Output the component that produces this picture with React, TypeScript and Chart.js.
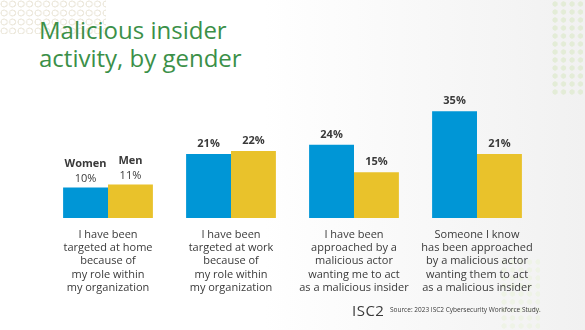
import React, { useEffect, useRef } from "react";
import { Chart, registerables } from "chart.js";

Chart.register(...registerables);

const categories: string[][] = [
  ["I have been", "targeted at home", "because of", "my role within", "my organization"],
  ["I have been", "targeted at work", "because of", "my role within", "my organization"],
  ["I have been", "approached by a", "malicious actor", "wanting me to act", "as a malicious insider"],
  ["Someone I know", "has been approached", "by a malicious actor", "wanting them to act", "as a malicious insider"],
];
const seriesNames = ["Women", "Men"];
const womenValues = [10, 21, 24, 35];
const menValues = [11, 22, 15, 21];

const BLUE = "#0096d6";
const YELLOW = "#e9c22b";
const TEXT = "#3a3a3a";
const FONT = "'Open Sans', 'Noto Sans', sans-serif";

const labelPlugin = {
  id: "barLabels",
  afterDatasetsDraw(chart: any) {
    const ctx = chart.ctx;
    ctx.save();
    ctx.textAlign = "center";
    ctx.textBaseline = "middle";
    ctx.fillStyle = TEXT;
    chart.data.datasets.forEach((ds: any, di: number) => {
      const meta = chart.getDatasetMeta(di);
      meta.data.forEach((bar: any, i: number) => {
        const v = ds.data[i];
        const txt = v + "%";
        if (i === 0) {
          ctx.font = `400 11px ${FONT}`;
          ctx.fillText(txt, bar.x, bar.y - 9);
          ctx.font = `700 11px ${FONT}`;
          ctx.fillText(seriesNames[di], bar.x, bar.y - 24);
        } else {
          ctx.font = `700 11px ${FONT}`;
          ctx.fillText(txt, bar.x, bar.y - 10);
        }
      });
    });
    ctx.restore();
  },
};

const dotPattern = (color: string) =>
  `radial-gradient(circle at 4px 4px, ${color} 0, ${color} 2.4px, transparent 2.9px)`;
const ringPattern =
  "radial-gradient(circle at 4px 4px, transparent 0, transparent 2.4px, #ece8dc 2.6px, #ece8dc 3.4px, transparent 3.7px)";

export default function App() {
  const ref = useRef<HTMLCanvasElement | null>(null);
  useEffect(() => {
    if (!ref.current) return;
    const chart = new Chart(ref.current, {
      type: "bar",
      data: {
        labels: categories,
        datasets: [
          {
            label: seriesNames[0],
            data: womenValues,
            backgroundColor: BLUE,
            borderWidth: 0,
            categoryPercentage: 0.73,
            barPercentage: 1,
          },
          {
            label: seriesNames[1],
            data: menValues,
            backgroundColor: YELLOW,
            borderWidth: 0,
            categoryPercentage: 0.73,
            barPercentage: 1,
          },
        ],
      },
      options: {
        animation: false,
        responsive: false,
        layout: { padding: { left: 46.5, right: 46.5, top: 96, bottom: 0 } },
        plugins: { legend: { display: false }, tooltip: { enabled: false }, title: { display: false } },
        scales: {
          x: {
            grid: { display: false },
            border: { display: false },
            ticks: {
              color: TEXT,
              font: { family: FONT, size: 11, lineHeight: 1.21 },
              padding: 2,
              maxRotation: 0,
              autoSkip: false,
            },
            afterFit: (s: any) => {
              s.height = 112;
            },
          } as any,
          y: {
            display: false,
            min: 0,
            max: 40,
          },
        },
      },
      plugins: [labelPlugin],
    });
    return () => chart.destroy();
  }, []);

  return (
    <div
      style={{
        position: "fixed",
        left: 0,
        top: 0,
        width: 585,
        height: 330,
        overflow: "hidden",
        background: "linear-gradient(90deg, #ffffff 0%, #ffffff 45%, #f1f1f1 100%)",
        fontFamily: FONT,
      }}
    >
      <div
        style={{
          position: "absolute",
          left: 0,
          top: 0,
          width: 106,
          height: 34,
          backgroundImage: ringPattern,
          backgroundSize: "8.5px 9px",
        }}
      />
      <div
        style={{
          position: "absolute",
          left: 551,
          top: 0,
          width: 34,
          height: 95,
          backgroundImage: dotPattern("#e3ecd7"),
          backgroundSize: "8.5px 8px",
        }}
      />
      <div
        style={{
          position: "absolute",
          left: 500,
          top: 258,
          width: 40,
          height: 72,
          backgroundImage: dotPattern("#eef3e6"),
          backgroundSize: "8.5px 8px",
        }}
      />
      <div
        style={{
          position: "absolute",
          left: 39,
          top: 16,
          color: "#3b9048",
          fontSize: 24,
          lineHeight: "28px",
          fontWeight: 400,
        }}
      >
        Malicious insider
        <br />
        activity, by gender
      </div>
      <canvas ref={ref} width={585} height={330} style={{ position: "absolute", left: 0, top: 0 }} />
      <div
        style={{
          position: "absolute",
          left: 352,
          top: 301,
          color: "#3a3a3a",
          fontSize: 15,
          fontWeight: 400,
          letterSpacing: 0.5,
          lineHeight: "18px",
        }}
      >
        ISC2
      </div>
      <div
        style={{
          position: "absolute",
          left: 390,
          top: 305,
          color: "#3a3a3a",
          fontSize: 6.5,
          lineHeight: "9px",
          whiteSpace: "nowrap",
        }}
      >
        Source: 2023 ISC2 Cybersecurity Workforce Study.
      </div>
    </div>
  );
}
